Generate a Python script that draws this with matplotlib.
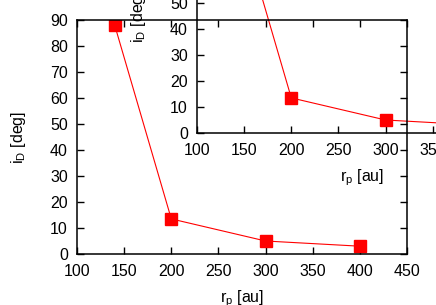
import matplotlib
matplotlib.use("Agg")
import matplotlib.pyplot as plt

# data
r_p = [140, 200, 300, 400]        # au
i_D = [88, 13.5, 5, 3]            # deg
x_ticks = [100, 150, 200, 250, 300, 350, 400, 450]
y_ticks = [0, 10, 20, 30, 40, 50, 60, 70, 80, 90]

plt.rcParams["font.family"] = ["Liberation Sans", "DejaVu Sans"]
plt.rcParams["font.size"] = 11.5
plt.rcParams["mathtext.fontset"] = "custom"
plt.rcParams["mathtext.rm"] = "Liberation Sans"
plt.rcParams["mathtext.it"] = "Liberation Sans"

fig = plt.figure(figsize=(4.36, 3.05), dpi=100)
W, H = 436, 305


def frac(left, top, right, bottom):
    return [left / W, 1 - bottom / H, (right - left) / W, (bottom - top) / H]


def style(ax):
    ax.plot(r_p, i_D, "-", color="red", lw=0.8)
    ax.plot(r_p, i_D, "s", color="red", ms=8.5, mec="red")
    ax.set_xlim(100, 450)
    ax.set_ylim(0, 90)
    ax.set_xticks(x_ticks)
    ax.set_yticks(y_ticks)
    ax.tick_params(direction="in", length=5, width=1, top=True, right=True)
    ax.tick_params(axis="x", pad=7)
    ax.tick_params(axis="y", pad=6.5)
    for s in ax.spines.values():
        s.set_linewidth(1.1)
    ax.set_xlabel(r"r$_\mathrm{p}$ [au]", labelpad=7)
    ax.set_ylabel(r"i$_\mathrm{D}$ [deg]", labelpad=16)


# the inset is the same plot shifted up-right, drawn under the main frame
ax_in = fig.add_axes(frac(197, -101, 527, 133), zorder=1)
style(ax_in)

ax = fig.add_axes(frac(77, 20, 407, 254), zorder=2)
ax.patch.set_facecolor("none")
style(ax)

fig.savefig("out.png", dpi=100)
